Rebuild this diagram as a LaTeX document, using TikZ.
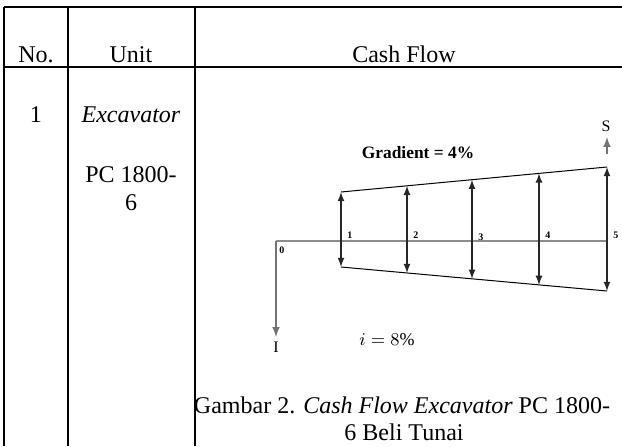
\documentclass[tikz,border=0pt]{standalone}
\usepackage{fontspec}
\setmainfont{Liberation Serif}
\usetikzlibrary{arrows}
\tikzstyle{grid} = [line width=1pt, black]
\tikzstyle{cell} = [anchor=base, inner sep=0pt, font=\fontsize{12}{14}\selectfont]
\tikzstyle{axis} = [line width=0.8pt, black!45]
\tikzstyle{edge} = [line width=0.5pt, black]
\tikzstyle{flow} = [line width=0.6pt, black!85, <->, >=latex]
\tikzstyle{arrow} = [line width=0.7pt, black!55, ->, >=latex]
\tikzstyle{num} = [anchor=base west, inner sep=0pt, font=\fontsize{5}{6}\selectfont\bfseries]
\tikzstyle{letter} = [anchor=base, inner sep=0pt, font=\fontsize{8}{9}\selectfont]

\begin{document}
\begin{tikzpicture}[x=0.5pt, y=-0.5pt]
            \useasboundingbox (0,0) rectangle (622,446);

            % table
            \draw [grid] (4,7) -- (622,7);
            \draw [grid] (4,67) -- (622,67);
            \draw [grid] (4,7) -- (4,446);
            \draw [grid] (68,7) -- (68,446);
            \draw [grid] (195,7) -- (195,446);

            \node [cell] at (36,62) (hno) {No.};
            \node [cell] at (131,62) (hunit) {Unit};
            \node [cell] at (404,62) (hflow) {Cash Flow};
            \node [cell] at (36,122) (no1) {1};
            \node [cell] at (131,122) (unit1) {\textit{Excavator}};
            \node [cell] at (131,182) (type1) {PC 1800-};
            \node [cell] at (131,210) (type2) {6};

            % cash flow diagram
            \coordinate (o) at (276,241);
            \coordinate (inv) at (276,337);
            \coordinate (b1) at (341,241);
            \coordinate (b2) at (407,241);
            \coordinate (b3) at (472,241);
            \coordinate (b4) at (539,241);
            \coordinate (b5) at (607,241);
            \coordinate (u1) at (341,192);
            \coordinate (u2) at (407,185.8);
            \coordinate (u3) at (472,179.7);
            \coordinate (u4) at (539,173.4);
            \coordinate (u5) at (607,167);
            \coordinate (l1) at (341,267);
            \coordinate (l2) at (407,273);
            \coordinate (l3) at (472,278.8);
            \coordinate (l4) at (539,284.9);
            \coordinate (l5) at (607,291);
            \coordinate (s0) at (607,154);
            \coordinate (s1) at (607,137);

            \draw [axis] (o) -- (b5);
            \draw [arrow] (o) -- (inv);
            \draw [arrow] (s0) -- (s1);
            \draw [edge] (u1) -- (u5);
            \draw [edge] (l1) -- (l5);
            \draw [flow] (u1) -- (l1);
            \draw [flow] (u2) -- (l2);
            \draw [flow] (u3) -- (l3);
            \draw [flow] (u4) -- (l4);
            \draw [flow] (u5) -- (l5);

            \node [num] at (279,253) (n0) {0};
            \node [num] at (347,238) (n1) {1};
            \node [num] at (413,238) (n2) {2};
            \node [num] at (478,240) (n3) {3};
            \node [num] at (545,238) (n4) {4};
            \node [num] at (613,238) (n5) {5};
            \node [letter] at (606,131) (slabel) {S};
            \node [letter] at (276,352) (ilabel) {I};
            \node [anchor=base, inner sep=0pt, font=\fontsize{8.7}{10}\selectfont\bfseries] at (418,158) (grad) {Gradient = 4\%};
            \node [anchor=base, inner sep=0pt, font=\fontsize{9}{10}\selectfont] at (387,345) (rate) {$i = 8\%$};

            % caption
            \node [cell] at (402,413) (cap1) {Gambar 2. \textit{Cash Flow Excavator} PC 1800-};
            \node [cell] at (404,440) (cap2) {6 Beli Tunai};
            \end{tikzpicture}
\end{document}
